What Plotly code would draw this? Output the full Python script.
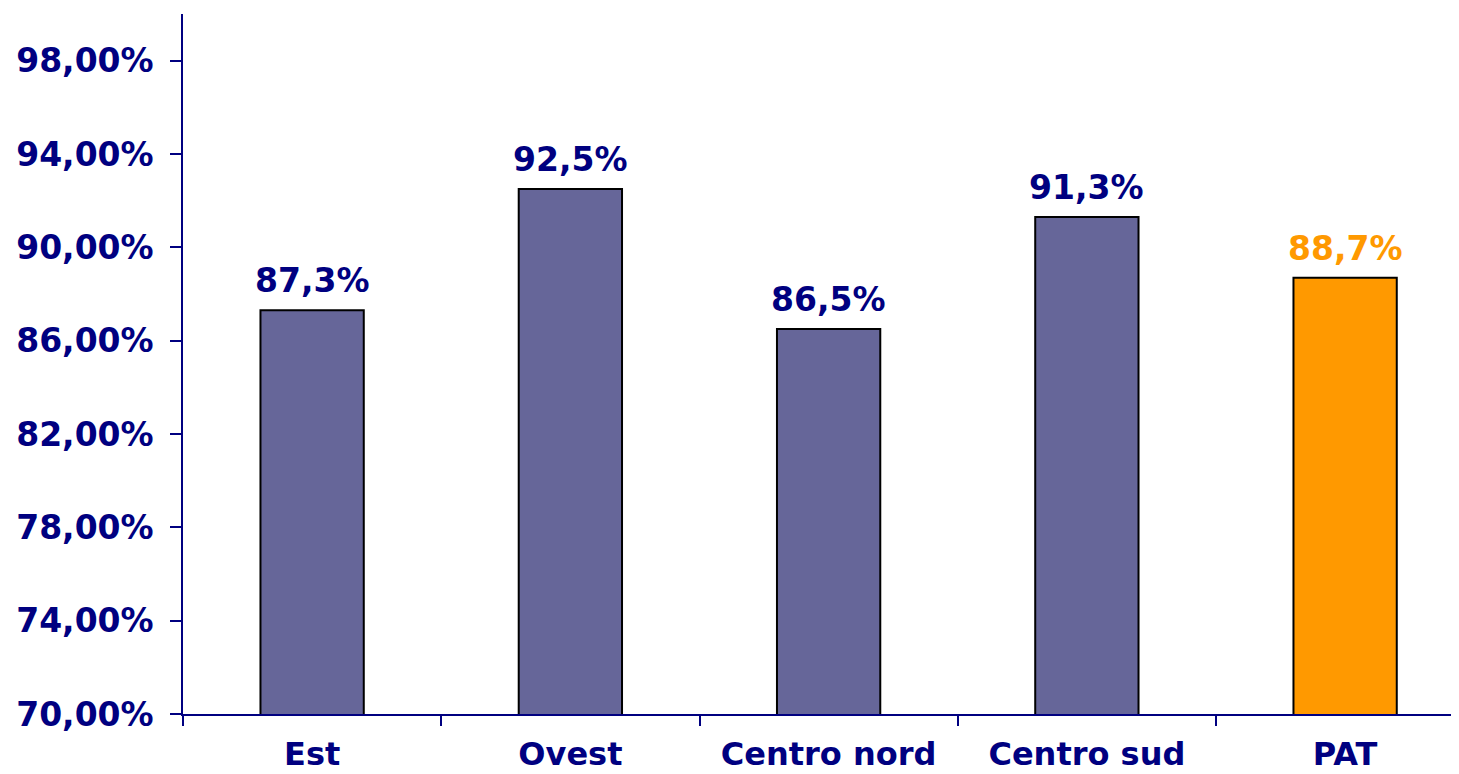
import plotly.graph_objects as go

categories = ["Est", "Ovest", "Centro nord", "Centro sud", "PAT"]
values = [87.3, 92.5, 86.5, 91.3, 88.7]
bar_colors = ["#666699", "#666699", "#666699", "#666699", "#FF9900"]
label_colors = ["#000080", "#000080", "#000080", "#000080", "#FF9900"]
y_ticks = [70, 74, 78, 82, 86, 90, 94, 98]
y_tick_labels = [f"{t:.2f}%".replace(".", ",") for t in y_ticks]

NAVY = "#000080"
FONT = "DejaVu Sans"

fig = go.Figure()
fig.add_trace(go.Bar(
    x=categories, y=values, width=0.4,
    marker=dict(color=bar_colors, line=dict(color="#000000", width=2)),
    hoverinfo="skip",
))

for c, v, col in zip(categories, values, label_colors):
    fig.add_annotation(
        x=c, y=v, text="<b>" + f"{v:.1f}%".replace(".", ",") + "</b>",
        showarrow=False, yanchor="bottom", yshift=8,
        font=dict(family=FONT, size=33, color=col),
    )

fig.update_layout(
    width=1443, height=766,
    margin=dict(l=175, r=0, t=6, b=60),
    paper_bgcolor="white", plot_bgcolor="white",
    showlegend=False,
)
fig.update_xaxes(
    range=[-0.5, 4.41], automargin=False,
    showline=True, linecolor=NAVY, linewidth=1.5,
    ticks="outside", tickson="boundaries", ticklen=10, tickcolor=NAVY, tickwidth=1.5,
    showgrid=False, zeroline=False,
    tickfont=dict(family=FONT, size=32, color=NAVY, weight="bold"),
    ticklabelstandoff=11,
)
fig.update_yaxes(
    range=[70, 100], automargin=False,
    tickvals=y_ticks, ticktext=y_tick_labels,
    showline=True, linecolor=NAVY, linewidth=1.5,
    ticks="outside", ticklen=11, tickcolor=NAVY, tickwidth=1.5,
    showgrid=False, zeroline=False,
    tickfont=dict(family=FONT, size=33, color=NAVY, weight="bold"),
    ticklabelstandoff=10,
)

fig.write_html("out.html")
